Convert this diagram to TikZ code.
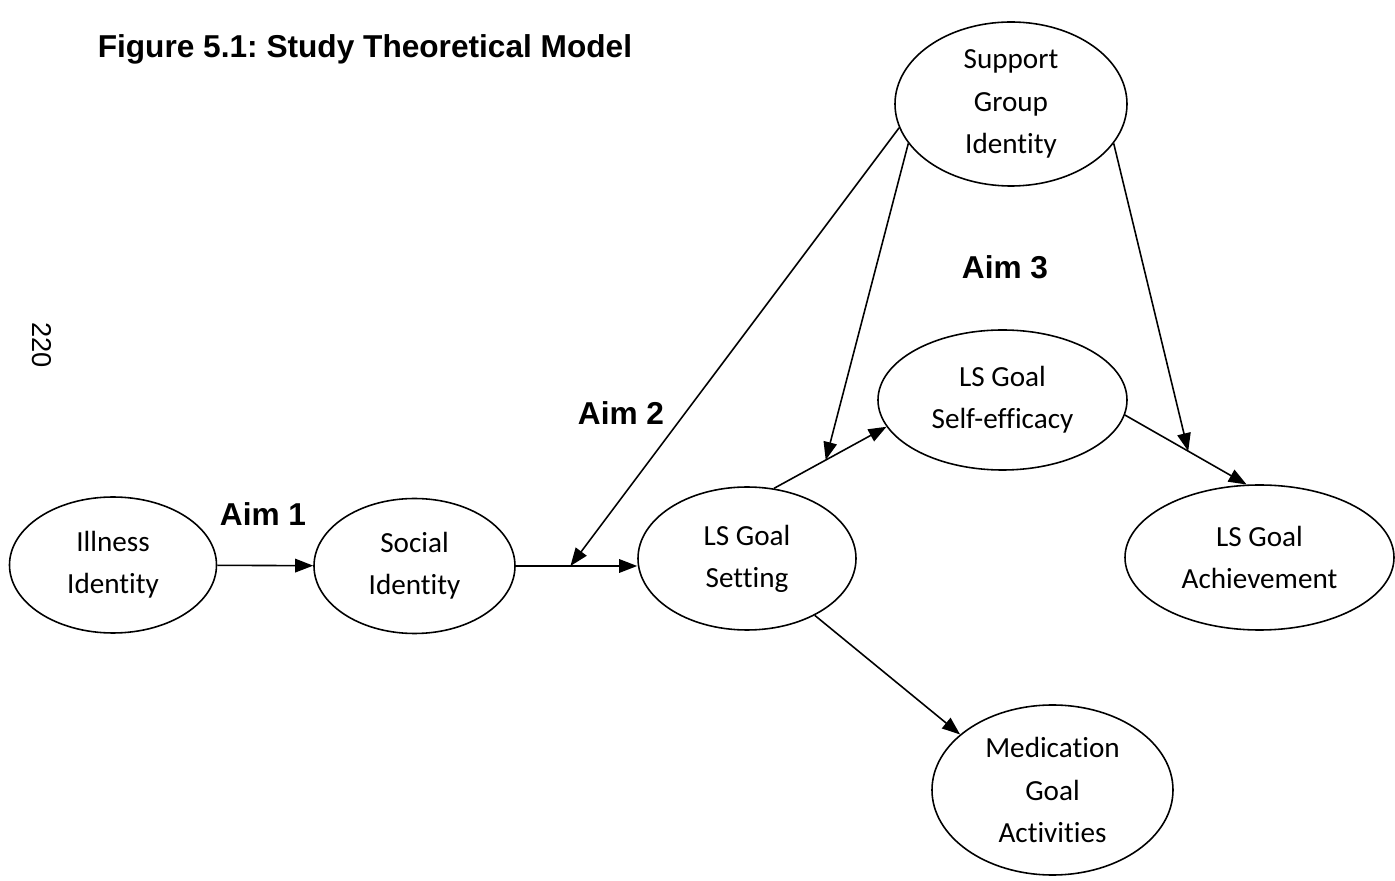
\documentclass[tikz,border=0pt]{standalone}
\usepackage{fontspec}
\setmainfont[Ligatures=NoCommon]{Carlito}
\newfontfamily\arialfont{Liberation Sans}
\usetikzlibrary{shapes.geometric,arrows.meta}
\frenchspacing

\begin{document}
\begin{tikzpicture}[line width=0.9pt,
  var/.style={draw, ellipse, inner sep=0pt, align=center, font=\fontsize{16.6}{24}\selectfont},
  arr/.style={-{Triangle[length=0.36cm, width=0.27cm]}},
  aim/.style={font=\arialfont\bfseries\fontsize{18}{20}\selectfont, anchor=base, inner sep=0pt}]
  \useasboundingbox (0,0) rectangle (27.9,-17.62);
  \node[aim, anchor=base west] (title) at (1.940,-1.160) {Figure 5.1: Study Theoretical Model};
  \node[font=\arialfont\fontsize{15.5}{18}\selectfont, rotate=-90, inner sep=0pt] (page) at (0.840,-6.900) {220};
  \node[var, minimum width=4.14cm, minimum height=2.72cm] (ill) at (2.260,-11.300) {Illness\\Identity};
  \node[var, minimum width=4.02cm, minimum height=2.70cm] (soc) at (8.290,-11.320) {Social\\Identity};
  \node[var, minimum width=4.36cm, minimum height=2.86cm] (set) at (14.940,-11.170) {LS Goal\\Setting};
  \node[var, minimum width=4.64cm, minimum height=3.28cm] (sup) at (20.220,-2.080) {Support\\Group\\Identity};
  \node[var, minimum width=4.98cm, minimum height=2.80cm] (eff) at (20.050,-8.000) {LS Goal\\Self-efficacy};
  \node[var, minimum width=5.38cm, minimum height=2.90cm] (ach) at (25.190,-11.150) {LS Goal\\Achievement};
  \node[var, minimum width=4.82cm, minimum height=3.40cm] (med) at (21.050,-15.800) {Medication\\Goal\\Activities};
  \node[aim] (aim1) at (5.260,-10.520) {Aim 1};
  \node[aim] (aim2) at (12.420,-8.500) {Aim 2};
  \node[aim] (aim3) at (20.100,-5.580) {Aim 3};
  \draw[arr] (ill) -- (soc);
  \draw[arr] (soc.east) -- coordinate[pos=0.45] (j2) (soc.east -| set.west);
  \draw[arr] (set.69) -- coordinate[pos=0.46] (j3) (eff.193);
  \draw[arr] (eff.-7) -- coordinate[pos=0.52] (j4) (ach.100);
  \draw[arr] (set.-40) -- (med.149);
  \draw[arr] (sup.192) -- (j2);
  \draw[arr] (sup.201) -- (j3);
  \draw[arr] (sup.-21) -- (j4);
\end{tikzpicture}
\end{document}
